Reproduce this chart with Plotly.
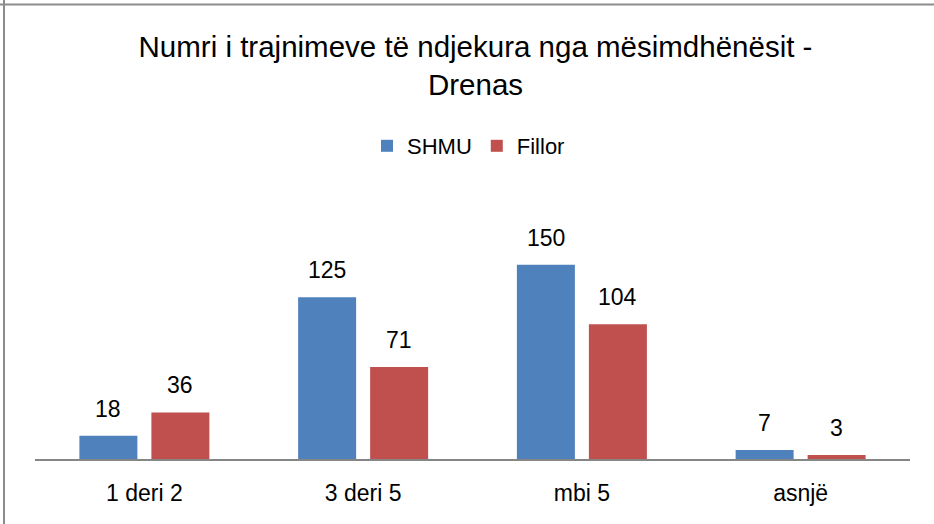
import plotly.graph_objects as go

categories = ["1 deri 2", "3 deri 5", "mbi 5", "asnjë"]
shmu = [18, 125, 150, 7]
fillor = [36, 71, 104, 3]
series_names = ["SHMU", "Fillor"]
colors = ["#4F81BD", "#C0504D"]
title_text = "Numri i trajnimeve të ndjekura nga mësimdhënësit -<br>Drenas"

W, H = 934, 524
ML, MR, MT, MB = 35, 24, 200, 65
plot_w = W - ML - MR
plot_h = H - MT - MB
band = plot_w / len(categories)
bargap = 1 - 144 / band
bargroupgap = 14 / 72
slot = band * (1 - bargap) / 2

FONT = "Liberation Sans, Arial, sans-serif"

fig = go.Figure()
for name, vals, col in zip(series_names, [shmu, fillor], colors):
    fig.add_trace(go.Bar(name=name, x=categories, y=vals, marker=dict(color=col, line=dict(width=0))))

annotations = []
for i, vals in enumerate([shmu, fillor]):
    shift = (i - 0.5) * slot
    for c, v in zip(categories, vals):
        annotations.append(dict(x=c, y=v, xref="x", yref="y", text=str(v), showarrow=False,
                                xshift=shift, yshift=27, yanchor="middle",
                                font=dict(family=FONT, size=23, color="#000000")))

def px_x(px):
    return (px - ML) / plot_w

def px_y(py):
    return (H - MB - py) / plot_h

shapes = [
    dict(type="line", xref="paper", yref="paper", x0=px_x(0), x1=px_x(W), y0=px_y(4.5), y1=px_y(4.5),
         line=dict(color="#8C8C8C", width=2)),
    dict(type="line", xref="paper", yref="paper", x0=px_x(4), x1=px_x(4), y0=px_y(0), y1=px_y(H),
         line=dict(color="#8C8C8C", width=2)),
]

fig.update_layout(
    width=W, height=H,
    margin=dict(l=ML, r=MR, t=MT, b=MB, autoexpand=False),
    paper_bgcolor="white", plot_bgcolor="white",
    barmode="group", bargap=bargap, bargroupgap=bargroupgap,
    title=dict(text=title_text, x=0.5 + 3 / plot_w, xanchor="center", xref="paper",
               y=1 - 57 / H, yanchor="middle", yref="container",
               font=dict(family=FONT, size=29.5, color="#000000")),
    legend=dict(orientation="h", x=0.5 - 4 / plot_w, xanchor="center", y=px_y(146), yanchor="middle",
                font=dict(family=FONT, size=22, color="#000000"), itemwidth=30,
                tracegroupgap=0, bgcolor="rgba(0,0,0,0)"),
    showlegend=True,
    annotations=annotations,
    shapes=shapes,
    xaxis=dict(showline=True, linecolor="#868686", linewidth=2, ticks="", showgrid=False,
               tickfont=dict(family=FONT, size=23, color="#000000"), ticklabelstandoff=12,
               zeroline=False),
    yaxis=dict(range=[0, 200], visible=False, showgrid=False, zeroline=False),
)

fig.write_html("out.html", config={"displayModeBar": False},
               post_script="document.body.style.margin='0';document.body.style.overflow='hidden';")
